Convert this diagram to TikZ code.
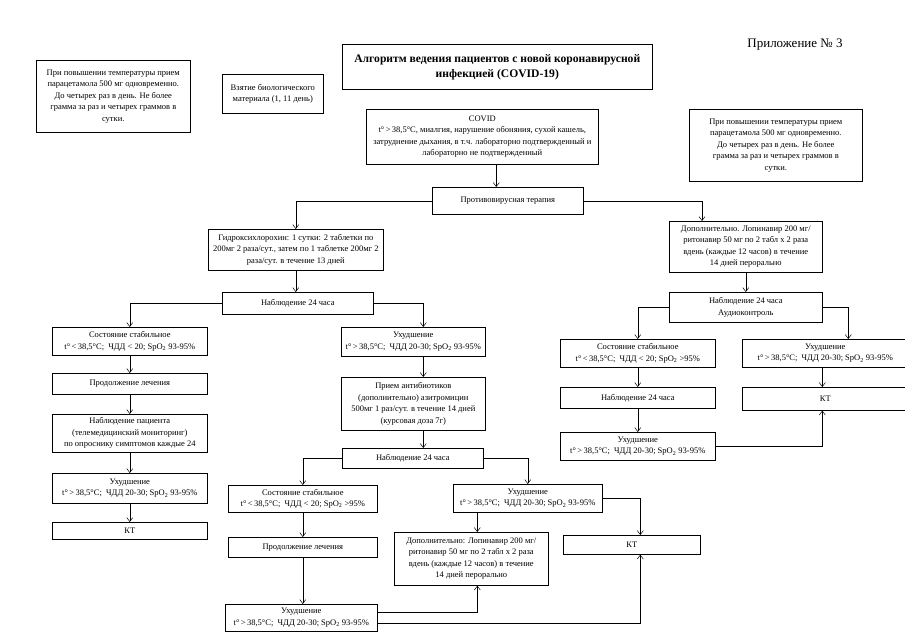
\documentclass[tikz,border=0pt]{standalone}
\usepackage{fontspec}
\setmainfont{Liberation Serif}
\usetikzlibrary{arrows.meta}
\tikzset{
  box/.style={draw, line width=0.6pt, align=center, inner sep=0pt, anchor=north west,
              font=\fontsize{8.5}{11.5}\selectfont},
  arr/.style={-{Straight Barb[length=4pt,width=6pt]}, line width=0.5pt},
  ln/.style={line width=0.5pt}
}
\newcommand{\spo}{SpO\textsubscript{2}}
\newcommand{\tup}{t°\,>\,38,5°C;\ \ ЧДД 20-30; \spo{} 93-95\%}
\begin{document}
\begin{tikzpicture}[x=1pt, y=-1pt]
\useasboundingbox (0,0) rectangle (905,640);
% header
\node[font=\fontsize{13}{15}\selectfont] (app) at (795,45) {Приложение № 3};
\node[box, font=\bfseries\fontsize{11.6}{15}\selectfont, minimum width=310pt, minimum height=45pt] (title) at (342,44)
  {Алгоритм ведения пациентов с новой коронавирусной\\ инфекцией (COVID-19)};
\node[box, minimum width=154pt, minimum height=72pt] (infol) at (36,60)
  {При повышении температуры прием\\ парацетамола 500 мг одновременно.\\ До четырех раз в день. Не более\\ грамма за раз и четырех граммов в\\ сутки.};
\node[box, minimum width=101pt, minimum height=39pt] (bio) at (222,74) {Взятие биологического\\ материала (1, 11 день)};
\node[box, minimum width=173pt, minimum height=72pt] (infor) at (689,109)
  {При повышении температуры прием\\ парацетамола 500 мг одновременно.\\ До четырех раз в день. Не более\\ грамма за раз и четырех граммов в\\ сутки.};
\node[box, minimum width=232pt, minimum height=55pt] (covid) at (366,109)
  {COVID\\ t°\,>\,38,5°C, миалгия, нарушение обоняния, сухой кашель,\\ затруднение дыхания, в т.ч. лабораторно подтвержденный и\\ лабораторно не подтвержденный};
\node[box, minimum width=151pt, minimum height=27pt] (prot) at (432,187) {Противовирусная терапия};
% left branch
\node[box, minimum width=175pt, minimum height=41pt] (gid) at (208,229)
  {Гидроксихлорохин: 1 сутки: 2 таблетки по\\ 200мг 2 раза/сут., затем по 1 таблетке 200мг 2\\ раза/сут. в течение 13 дней};
\node[box, minimum width=151pt, minimum height=22pt] (nab1) at (222,292) {Наблюдение 24 часа};
\node[box, minimum width=155pt, minimum height=28pt] (st1) at (52,327) {Состояние стабильное\\ t°\,<\,38,5°C;\ \ ЧДД < 20; \spo{} 93-95\%};
\node[box, minimum width=155pt, minimum height=21pt] (pr1) at (52,373) {Продолжение лечения};
\node[box, minimum width=155pt, minimum height=38pt] (pat) at (52,414)
  {Наблюдение пациента\\ (телемедицинский мониторинг)\\ по опроснику симптомов каждые 24};
\node[box, minimum width=155pt, minimum height=30pt] (uh1) at (52,473) {Ухудшение\\ \tup};
\node[box, minimum width=155pt, minimum height=17pt] (kt1) at (52,522) {КТ};
% middle branch
\node[box, minimum width=144pt, minimum height=29pt] (uh2) at (341,327) {Ухудшение\\ \tup};
\node[box, minimum width=144pt, minimum height=53pt] (abx) at (341,377)
  {Прием антибиотиков\\ (дополнительно) азитромицин\\ 500мг 1 раз/сут. в течение 14 дней\\ (курсовая доза 7г)};
\node[box, minimum width=141pt, minimum height=20pt] (nab4) at (342,448) {Наблюдение 24 часа};
\node[box, minimum width=149pt, minimum height=27pt] (st4) at (228,485) {Состояние стабильное\\ t°\,<\,38,5°C;\ \ ЧДД < 20; \spo{} >95\%};
\node[box, minimum width=149pt, minimum height=20pt] (pr2) at (228,537) {Продолжение лечения};
\node[box, minimum width=152pt, minimum height=27pt] (uh5) at (225,604) {Ухудшение\\ \tup};
\node[box, minimum width=149pt, minimum height=28pt] (uh4) at (453,484) {Ухудшение\\ \tup};
\node[box, minimum width=154pt, minimum height=53pt] (dop2) at (394,532)
  {Дополнительно: Лопинавир 200 мг/\\ ритонавир 50 мг по 2 табл х 2 раза\\ вдень (каждые 12 часов) в течение\\ 14 дней перорально};
\node[box, minimum width=137pt, minimum height=19pt] (kt2) at (563,535) {КТ};
% right branch
\node[box, minimum width=153pt, minimum height=51pt] (dop1) at (669,221)
  {Дополнительно. Лопинавир 200 мг/\\ ритонавир 50 мг по 2 табл х 2 раза\\ вдень (каждые 12 часов) в течение\\ 14 дней перорально};
\node[box, minimum width=153pt, minimum height=30pt] (nab2) at (669,292) {Наблюдение 24 часа\\ Аудиоконтроль};
\node[box, minimum width=155pt, minimum height=28pt] (st3) at (560,339) {Состояние стабильное\\ t°\,<\,38,5°C;\ \ ЧДД < 20; \spo{} >95\%};
\node[box, minimum width=155pt, minimum height=21pt] (nab3) at (560,387) {Наблюдение 24 часа};
\node[box, minimum width=155pt, minimum height=28pt] (uh6) at (560,432) {Ухудшение\\ \tup};
\node[box, minimum width=166pt, minimum height=28pt] (uh3) at (742,339) {Ухудшение\\ \tup};
\node[box, minimum width=166pt, minimum height=23pt] (kt3) at (742,387) {КТ};
% connectors
\draw[arr] ([xshift=14pt]covid.south) -- ([xshift=14pt]covid.south |- prot.north);
\draw[arr] (prot.west) -| (gid.north);
\draw[arr] (prot.east) -| ([xshift=33pt]dop1.north west);
\draw[arr] (gid.south) -- (gid.south |- nab1.north);
\draw[arr] (nab1.west) -| (st1.north);
\draw[arr] (nab1.east) -| ([xshift=10pt]uh2.north);
\draw[arr] (st1.south) -- (pr1.north);
\draw[arr] (pr1.south) -- (pat.north);
\draw[arr] (pat.south) -- (uh1.north);
\draw[arr] (uh1.south) -- (kt1.north);
\draw[arr] ([xshift=10pt]uh2.south) -- ([xshift=10pt]abx.north);
\draw[arr] ([xshift=10pt]abx.south) -- ([xshift=10pt]abx.south |- nab4.north);
\draw[arr] (nab4.west) -| (st4.north);
\draw[arr] (nab4.east) -| (uh4.north);
\draw[arr] (st4.south) -- (pr2.north);
\draw[arr] (pr2.south) -- (pr2.south |- uh5.north);
\draw[arr] ([xshift=6pt]dop2.north |- uh4.south) -- ([xshift=6pt]dop2.north);
\draw[arr] (uh4.east) -| ([xshift=8.5pt]kt2.north);
\draw[arr] ([yshift=6pt]uh5.east) -| ([xshift=6pt]dop2.south);
\draw[arr] ([yshift=-5pt]uh5.east) -| ([xshift=8.5pt]kt2.south);
\draw[arr] (dop1.south) -- (nab2.north);
\draw[arr] (nab2.west) -| (st3.north);
\draw[arr] (nab2.east) -| ([xshift=23pt]uh3.north);
\draw[arr] (st3.south) -- (nab3.north);
\draw[arr] (nab3.south) -- (uh6.north);
\draw[arr] ([xshift=-3pt]uh3.south) -- ([xshift=-3pt]kt3.north);
\draw[arr] (uh6.east) -| ([xshift=-3pt]kt3.south);
\end{tikzpicture}
\end{document}
